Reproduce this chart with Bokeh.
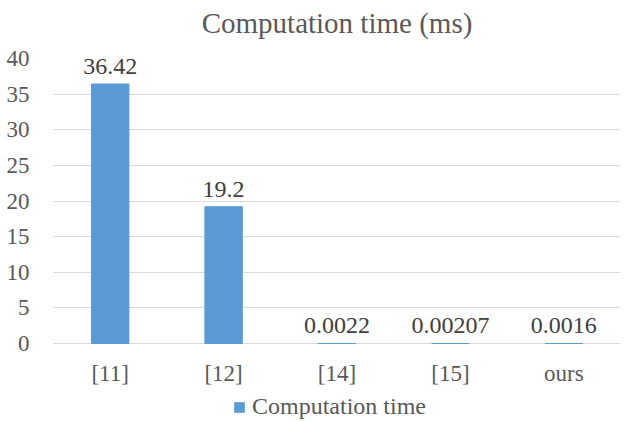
from bokeh.plotting import figure
from bokeh.layouts import column
from bokeh.models import ColumnDataSource, Range1d, FactorRange, LabelSet, Legend, LegendItem, FixedTicker
from bokeh.core.properties import value
from bokeh.embed import file_html
from bokeh.resources import INLINE

categories = ["[11]", "[12]", "[14]", "[15]", "ours"]
values = [36.42, 19.2, 0.0022, 0.00207, 0.0016]
value_labels = ["36.42", "19.2", "0.0022", "0.00207", "0.0016"]
y_ticks = [0, 5, 10, 15, 20, 25, 30, 35, 40]
series_name = "Computation time"
chart_title = "Computation time (ms)"

FONT = "Liberation Serif"
BAR = "#5B9BD5"
GREY = "#595959"
GRID = "#D9D9D9"
W = 620

src = ColumnDataSource(dict(cat=categories, val=values, lab=value_labels))


def strip(h, x_range):
    f = figure(width=W, height=h, x_range=x_range, y_range=Range1d(0, 1),
               x_axis_type=None, y_axis_type=None, output_backend="svg", toolbar_location=None,
               min_border_left=0, min_border_right=0, min_border_top=0, min_border_bottom=0)
    f.outline_line_color = None
    f.xgrid.grid_line_color = None
    f.ygrid.grid_line_color = None
    return f


# title strip
tf = strip(44, Range1d(0, 1))
tf.text(x=[0.5], y=[0.5], text=[chart_title], text_align="center", text_baseline="middle",
        text_font=value(FONT), text_font_size="29px", text_color=GREY)

# main chart
p = figure(x_range=categories, y_range=Range1d(0, 40),
           width=W, height=347,
           output_backend="svg", toolbar_location=None,
           min_border_left=53, min_border_right=0, min_border_top=14, min_border_bottom=48)
p.outline_line_color = None

r = p.vbar(x="cat", top="val", width=0.33, source=src, fill_color=BAR, line_color=BAR, line_width=1)
r.level = "annotation"

labels = LabelSet(x="cat", y="val", text="lab", source=src, text_align="center",
                  text_baseline="alphabetic", y_offset=10, text_font=FONT,
                  text_font_size="24px", text_color="#404040")
p.add_layout(labels)

p.yaxis.ticker = FixedTicker(ticks=y_ticks)
p.yaxis.axis_line_color = None
p.yaxis.major_tick_line_color = None
p.yaxis.minor_tick_line_color = None
p.yaxis.major_label_text_font = FONT
p.yaxis.major_label_text_font_size = "23px"
p.yaxis.major_label_text_color = GREY
p.yaxis.major_label_standoff = 18

p.xaxis.axis_line_color = GRID
p.xaxis.major_tick_line_color = None
p.xaxis.minor_tick_line_color = None
p.xaxis.major_label_text_font = FONT
p.xaxis.major_label_text_font_size = "23px"
p.xaxis.major_label_text_color = GREY
p.xaxis.major_label_standoff = 11

p.xgrid.grid_line_color = None
p.ygrid.grid_line_color = GRID

# legend strip below the chart (its renderer shares the bar data but is hidden)
lf = strip(29, FactorRange(*categories))
lr = lf.vbar(x="cat", top="val", width=0.33, source=src, fill_color=BAR, line_color=BAR)
lr.visible = False

legend = Legend(items=[LegendItem(label=series_name, renderers=[lr])],
                orientation="horizontal", location=(180, 0),
                border_line_color=None, background_fill_alpha=0,
                inactive_fill_alpha=0,
                label_text_font=FONT, label_text_font_size="24px", label_text_color=GREY,
                glyph_width=12, glyph_height=12, padding=0, margin=0, spacing=0,
                label_standoff=7)
lf.add_layout(legend)

layout = column(tf, p, lf, spacing=0)
open("out.html", "w").write(file_html(layout, INLINE))
